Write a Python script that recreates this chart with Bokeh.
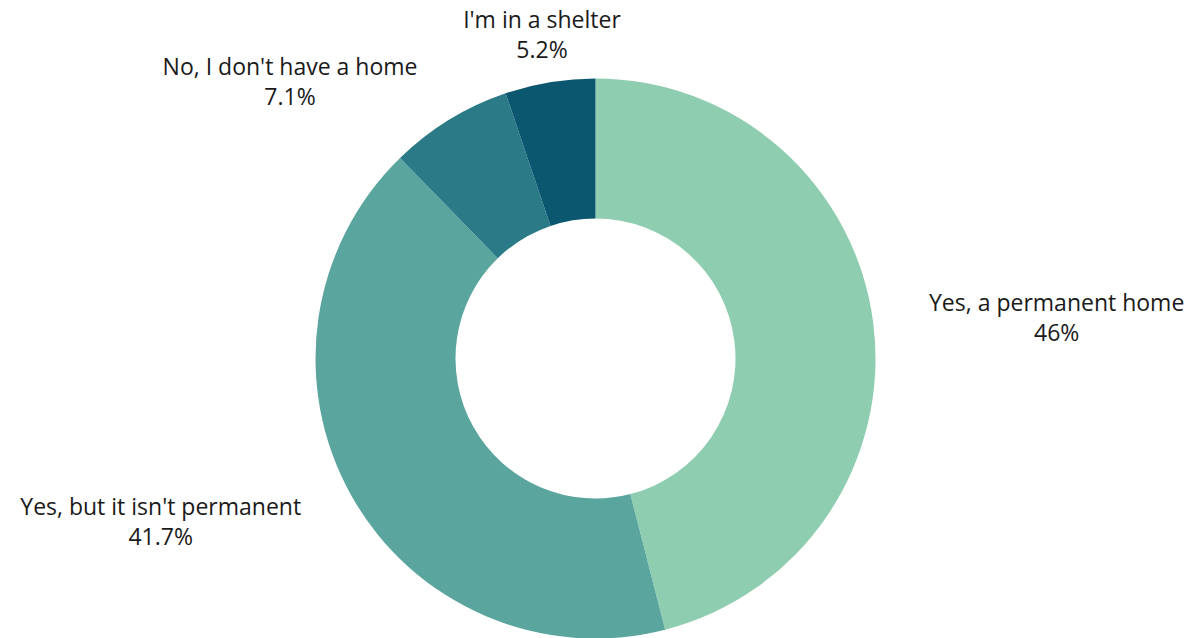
import math
from bokeh.plotting import figure
from bokeh.models import Range1d, ColumnDataSource
from bokeh.core.properties import value
from bokeh.embed import file_html
from bokeh.resources import INLINE

categories = ["Yes, a permanent home", "Yes, but it isn't permanent",
              "No, I don't have a home", "I'm in a shelter"]
percentages = [46.0, 41.7, 7.1, 5.2]
colors = ["#8ECDB0", "#5AA59E", "#2B7A87", "#0B5770"]

# layout (pixel-like units)
W, H = 1198, 638
cx, cy = 595, H - 358
r_out, r_in = 280, 140
# label placement: (radius, angle offset in degrees) relative to each wedge's mid-angle
label_layout = [(463, -2.1), (464, -8.9), (413, 16.2), (329, 0.0)]
line_gap = 15

total = sum(percentages)
starts, ends, lx, ly1, ly2, t1, t2 = [], [], [], [], [], [], []
cum = 0.0
for i, v in enumerate(percentages):
    a0 = math.pi / 2 - 2 * math.pi * cum / total
    cum += v
    a1 = math.pi / 2 - 2 * math.pi * cum / total
    starts.append(a0)
    ends.append(a1)
    mid = (a0 + a1) / 2
    rr, off = label_layout[i]
    m = mid + math.radians(off)
    x = cx + rr * math.cos(m)
    y = cy + rr * math.sin(m)
    lx.append(x)
    ly1.append(y + line_gap)
    ly2.append(y - line_gap)
    t1.append(categories[i])
    t2.append(f"{v:g}%")

src = ColumnDataSource(dict(start=starts, end=ends, color=colors))
lsrc = ColumnDataSource(dict(x=lx, y1=ly1, y2=ly2, t1=t1, t2=t2))

p = figure(width=W, height=H, output_backend="svg", toolbar_location=None,
           x_range=Range1d(0, W), y_range=Range1d(0, H),
           min_border=0, outline_line_color=None, match_aspect=False)
p.axis.visible = False
p.grid.visible = False
p.background_fill_color = "white"
p.border_fill_color = "white"

p.annular_wedge(x=cx, y=cy, inner_radius=r_in, outer_radius=r_out,
                start_angle="start", end_angle="end", direction="clock",
                fill_color="color", line_alpha=0, source=src)

for col in ("1", "2"):
    p.text(x="x", y="y" + col, text="t" + col, source=lsrc, text_align="center",
           text_baseline="middle", text_font=value("Open Sans"),
           text_font_size="23px", text_color="#1a1a1a")

open("out.html", "w").write(file_html(p, INLINE))
